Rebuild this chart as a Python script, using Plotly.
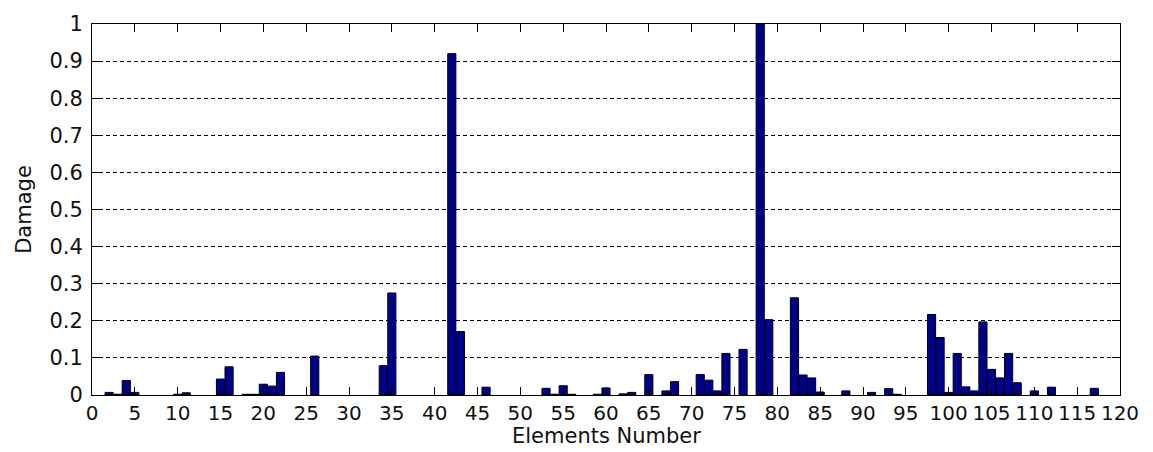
import plotly.graph_objects as go

elements = [2, 3, 4, 5, 10, 11, 15, 16, 18, 19, 20, 21, 22, 26, 34, 35, 42, 43, 46,
            53, 54, 55, 56, 59, 60, 62, 63, 65, 67, 68, 71, 72, 73, 74, 76, 78, 79,
            82, 83, 84, 85, 88, 91, 93, 94, 98, 99, 100, 101, 102, 103, 104, 105,
            106, 107, 108, 110, 112, 117]
damage = [0.007, 0.002, 0.039, 0.007, 0.002, 0.006, 0.043, 0.076, 0.002, 0.002, 0.029,
          0.024, 0.061, 0.105, 0.079, 0.275, 0.92, 0.171, 0.021,
          0.018, 0.002, 0.025, 0.002, 0.002, 0.019, 0.003, 0.007, 0.055, 0.011, 0.036,
          0.055, 0.040, 0.011, 0.112, 0.123, 1.0, 0.203,
          0.262, 0.054, 0.046, 0.008, 0.011, 0.007, 0.017, 0.002, 0.217, 0.155, 0.007,
          0.112, 0.022, 0.011, 0.197, 0.069,
          0.046, 0.112, 0.033, 0.011, 0.021, 0.018]

x_ticks = list(range(0, 121, 5))
y_ticks = [round(i * 0.1, 1) for i in range(11)]
y_tick_text = ["0"] + [f"{v:.1f}" for v in y_ticks[1:-1]] + ["1"]

font = dict(family="DejaVu Sans, Liberation Sans, sans-serif", size=21, color="#111111")
tick_font = dict(family="DejaVu Sans, Liberation Sans, sans-serif", size=20, color="#111111")

fig = go.Figure()
fig.add_trace(go.Bar(
    x=elements, y=damage, width=0.95,
    marker=dict(color="#00008F", line=dict(color="black", width=1)),
))

fig.update_layout(
    width=1153, height=452,
    margin=dict(l=92, r=33, t=18, b=57),
    paper_bgcolor="white", plot_bgcolor="white",
    font=font, showlegend=False,
    annotations=[dict(
        text="Elements Number", x=0.5, y=0, xref="paper", yref="paper",
        xanchor="center", yanchor="top", yshift=-27, showarrow=False, font=font,
    )],
)
fig.update_xaxes(
    range=[0, 120], tickvals=x_ticks, ticktext=[str(v) for v in x_ticks],
    tickfont=tick_font,
    ticks="inside", ticklen=8, tickcolor="black", tickwidth=1,
    showline=True, linecolor="black", linewidth=1, mirror="ticks",
    showgrid=False, zeroline=False,
    ticklabelstandoff=0,
)
fig.update_yaxes(
    range=[0, 1], tickvals=y_ticks, ticktext=y_tick_text,
    tickfont=font,
    ticks="inside", ticklen=8, tickcolor="black", tickwidth=1,
    showline=True, linecolor="black", linewidth=1, mirror="ticks",
    showgrid=True, gridcolor="black", gridwidth=1, griddash="4px,3px",
    zeroline=False,
    title=dict(text="Damage", font=font, standoff=12),
    ticklabelstandoff=4,
)

fig.write_html("out.html")
